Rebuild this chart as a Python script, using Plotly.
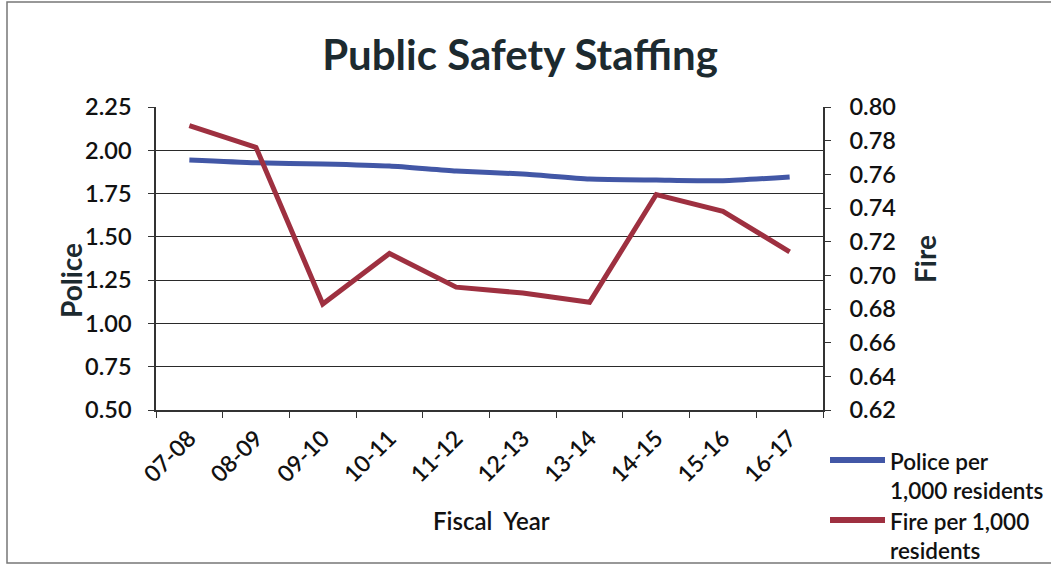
import plotly.graph_objects as go

# Fiscal years and staffing per 1,000 residents
years = ["07-08", "08-09", "09-10", "10-11", "11-12", "12-13", "13-14", "14-15", "15-16", "16-17"]
police = [1.944, 1.928, 1.921, 1.909, 1.880, 1.863, 1.834, 1.828, 1.824, 1.846]
fire = [0.789, 0.776, 0.683, 0.713, 0.693, 0.6895, 0.684, 0.748, 0.738, 0.714]

police_name = "Police per<br>1,000 residents"
fire_name = "Fire per 1,000<br>residents"

BLUE = "#4257a6"
RED = "#9e3040"
FONT = "Lato, 'Open Sans', sans-serif"
INK = "#111111"
DARK = "#1c2a2f"

fig = go.Figure()
fig.add_trace(go.Scatter(x=years, y=police, mode="lines", name=police_name,
                         line=dict(color=BLUE, width=5, shape="spline", smoothing=0.6),
                         showlegend=False))
fig.add_trace(go.Scatter(x=years, y=fire, mode="lines", name=fire_name, yaxis="y2",
                         line=dict(color=RED, width=5), showlegend=False))

# Plot area in pixels: x 156..823, y 107..410
L, R, T, B = 156, 823, 107, 410
W, H = 1051, 565


def px(x):
    return (x - L) / (R - L)


def py(y):
    return (B - y) / (B - T)


tick_font = dict(size=23.5, weight=600)

fig.update_layout(
    width=W, height=H,
    margin=dict(l=L, r=W - R, t=T, b=H - B),
    paper_bgcolor="white", plot_bgcolor="white",
    font=dict(family=FONT, size=21, color=INK),
    title=dict(text="<b>Public Safety Staffing</b>", x=520 / W, xanchor="center",
               y=1 - 55 / H, yanchor="middle",
               font=dict(family=FONT, size=42, color=DARK)),
    xaxis=dict(type="category", range=[-0.5, len(years) - 0.5], tickson="boundaries",
               ticks="outside", ticklen=6, tickcolor="#333", showline=True,
               linecolor="#333", linewidth=1.5, showgrid=False, tickangle=-45,
               tickfont=dict(size=23, weight=600), ticklabelstandoff=4),
    yaxis=dict(range=[0.5, 2.25], dtick=0.25, tickformat=".2f", ticks="outside",
               ticklen=6, tickcolor="#333", showline=True, linecolor="#333",
               linewidth=1.5, showgrid=True, gridcolor="#2a2a2a", gridwidth=1.3,
               zeroline=False, tickfont=tick_font, ticklabelstandoff=12),
    yaxis2=dict(range=[0.62, 0.80], dtick=0.02, tickformat=".2f", overlaying="y",
                side="right", ticks="outside", ticklen=6, tickcolor="#333",
                showline=True, linecolor="#333", linewidth=1.5, showgrid=False,
                zeroline=False, tickfont=tick_font, ticklabelstandoff=14),
)

annotations = [
    dict(text="<b>Police</b>", x=px(71), y=py(281), textangle=-90, font=dict(size=28, color=DARK)),
    dict(text="<b>Fire</b>", x=px(925), y=py(259), textangle=-90, font=dict(size=28, color=DARK)),
    dict(text="Fiscal  Year", x=px(491), y=py(520), font=dict(size=24, weight=600)),
    dict(text=police_name, x=px(888), y=py(446), xanchor="left", yanchor="top", align="left",
         font=dict(size=22.5, weight=600)),
    dict(text=fire_name, x=px(888), y=py(506), xanchor="left", yanchor="top", align="left",
         font=dict(size=22.5, weight=600)),
]
for a in annotations:
    a.setdefault("xanchor", "center")
    a.setdefault("yanchor", "middle")
    fig.add_annotation(xref="paper", yref="paper", showarrow=False, **a)

shapes = [
    # legend keys
    dict(type="line", x0=px(830), x1=px(885), y0=py(460), y1=py(460),
         line=dict(color=BLUE, width=6)),
    dict(type="line", x0=px(830), x1=px(885), y0=py(520), y1=py(520),
         line=dict(color=RED, width=6)),
    # chart frame
    dict(type="rect", x0=px(7), x1=px(1052), y0=py(563), y1=py(2),
         line=dict(color="#777", width=1.5)),
]
for s in shapes:
    fig.add_shape(xref="paper", yref="paper", layer="below", **s)

fig.write_html("out.html")
